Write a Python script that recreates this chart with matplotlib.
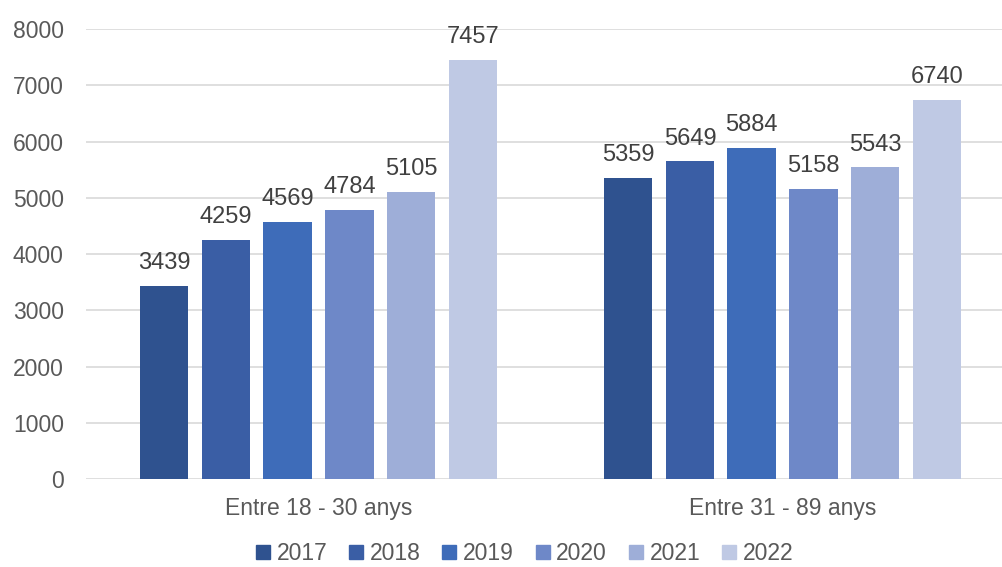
import numpy as np
import matplotlib.pyplot as plt
from matplotlib.lines import Line2D

plt.rcParams['font.family'] = ['Liberation Sans', 'DejaVu Sans']

groups = ['Entre 18 - 30 anys', 'Entre 31 - 89 anys']
years = ['2017', '2018', '2019', '2020', '2021', '2022']
values = {
    '2017': [3439, 5359],
    '2018': [4259, 5649],
    '2019': [4569, 5884],
    '2020': [4784, 5158],
    '2021': [5105, 5543],
    '2022': [7457, 6740],
}
colors = ['#2F528F', '#3A5EA5', '#3E6CB9', '#6E88C8', '#9EAED8', '#BFC9E4']

fig = plt.figure(figsize=(10.02, 5.67), dpi=100)
ax = fig.add_axes([86 / 1002, 87.7 / 567, 1 - 86 / 1002, (479.3 - 29) / 567])

x = np.arange(len(groups))
width = 0.1045
pitch = 0.133
for i, yr in enumerate(years):
    pos = x + (i - 2.5) * pitch
    bars = ax.bar(pos, values[yr], width=width, color=colors[i], zorder=3)
    for b, v in zip(bars, values[yr]):
        ax.annotate(str(v), (b.get_x() + b.get_width() / 2, v),
                    xytext=(0, 12), textcoords='offset points',
                    ha='center', va='baseline', fontsize=17, color='#404040')

ax.set_xlim((86 - 318.5) / 464, (1002 - 318.5) / 464)
ax.set_ylim(0, 8000)
ax.set_yticks(range(0, 8001, 1000))
ax.set_xticks(x)
ax.set_xticklabels(groups)
ax.tick_params(axis='y', length=0, pad=16, labelsize=16.5, labelcolor='#595959')
ax.tick_params(axis='x', length=0, pad=13, labelsize=16.5, labelcolor='#595959')
ax.grid(axis='y', color='#D9D9D9', linewidth=1.2, zorder=0)
for s in ax.spines.values():
    s.set_visible(False)

handles = [Line2D([], [], marker='s', linestyle='none', markersize=10,
                  color=c) for c in colors]
fig.legend(handles, years, loc='center', bbox_to_anchor=(524 / 1002, 1 - 554 / 567),
           ncol=6, frameon=False, fontsize=16.5, handlelength=0.7,
           handletextpad=0.25, columnspacing=0.9, labelcolor='#595959',
           borderpad=0.1)

fig.savefig('out.png', dpi=100)
